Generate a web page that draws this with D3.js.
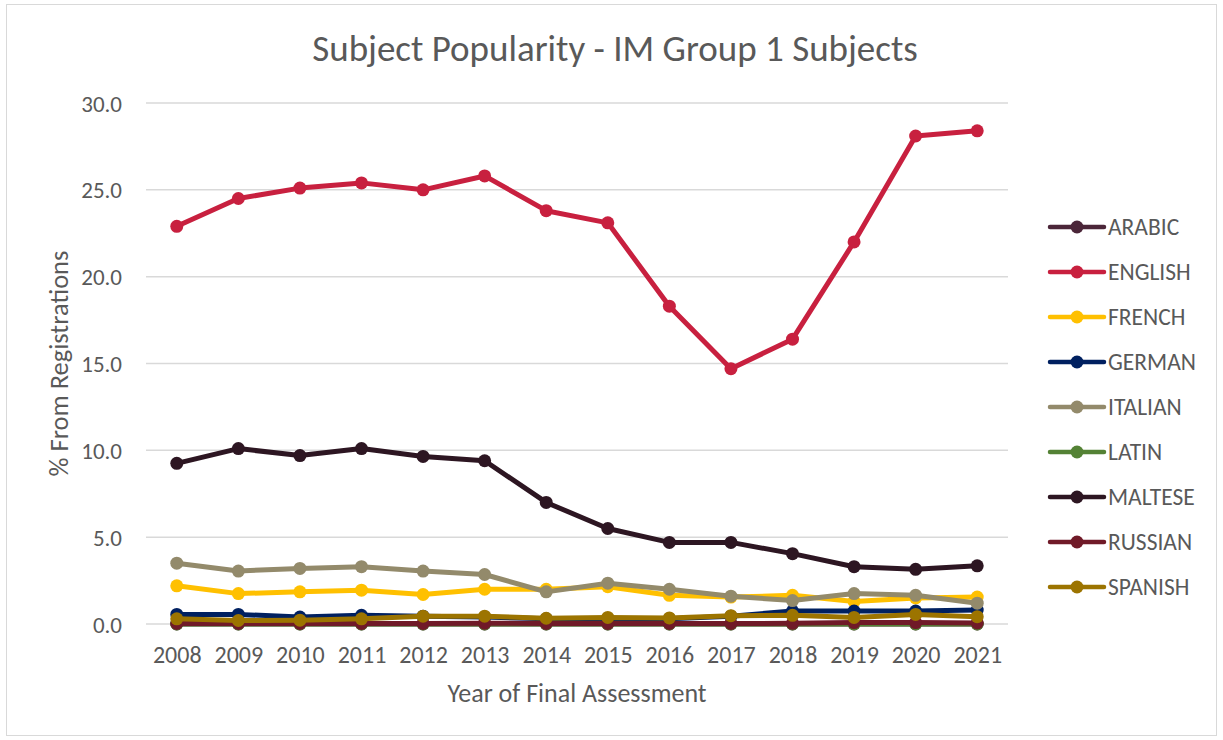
<!DOCTYPE html>
<html><head><meta charset="utf-8">
<script src="https://cdn.jsdelivr.net/npm/d3@7/dist/d3.min.js"></script>
<style>
body{margin:0;background:#fff;}
svg text{font-family:"Carlito","Open Sans",sans-serif;fill:#595959;}
</style></head>
<body><svg id="c" width="1223" height="740"></svg>
<script>
const years = [2008,2009,2010,2011,2012,2013,2014,2015,2016,2017,2018,2019,2020,2021];
const yTicks = [0,5,10,15,20,25,30];
const seriesNames = ["ARABIC","ENGLISH","FRENCH","GERMAN","ITALIAN","LATIN","MALTESE","RUSSIAN","SPANISH"];
const seriesColors = ["#4B2639","#C8203F","#FFC000","#002060","#938A6B","#548235","#2D1622","#701A28","#9C7400"];
const arabic  = [0,0,0,0,0,0,0,0,0,0,0,0,0,0];
const english = [22.9,24.5,25.1,25.4,25.0,25.8,23.8,23.1,18.3,14.7,16.4,22.0,28.1,28.4];
const french  = [2.2,1.75,1.85,1.95,1.7,2.0,2.0,2.15,1.65,1.55,1.65,1.3,1.5,1.55];
const german  = [0.55,0.55,0.4,0.5,0.45,0.4,0.3,0.3,0.3,0.45,0.75,0.75,0.75,0.8];
const italian = [3.5,3.05,3.2,3.3,3.05,2.85,1.85,2.35,2.0,1.6,1.35,1.75,1.65,1.2];
const latin   = [0,0,0,0,0,0,0,0,0,0,0,0,0,0];
const maltese = [9.25,10.1,9.7,10.1,9.65,9.4,7.0,5.5,4.7,4.7,4.05,3.3,3.15,3.35];
const russian = [0.03,0.03,0.03,0.03,0.03,0.05,0.03,0.03,0.03,0.03,0.04,0.08,0.08,0.06];
const spanish = [0.3,0.2,0.22,0.3,0.45,0.45,0.33,0.38,0.35,0.48,0.5,0.38,0.55,0.42];
const seriesValues = [arabic,english,french,german,italian,latin,maltese,russian,spanish];

const svg = d3.select("#c");
svg.append("rect").attr("x",6.5).attr("y",4.5).attr("width",1210).attr("height",731)
  .attr("fill","#fff").attr("stroke","#d9d9d9").attr("stroke-width",1);

const L=146, R=1008, T=103, B=624;
const x = d3.scalePoint().domain(years).range([L,R]).padding(0.5);
const y = d3.scaleLinear().domain([0,30]).range([B,T]);

// grid
svg.append("g").selectAll("line").data(yTicks).join("line")
  .attr("x1",L).attr("x2",R).attr("y1",d=>y(d)).attr("y2",d=>y(d))
  .attr("stroke","#d9d9d9").attr("stroke-width",1.5);

// y axis
const yAxis = svg.append("g").attr("transform",`translate(${L-24},0)`)
  .call(d3.axisLeft(y).tickValues(yTicks).tickFormat(d3.format(".1f")).tickSize(0).tickPadding(0));
yAxis.select(".domain").remove();
yAxis.selectAll("text").attr("font-size",23).attr("dy","0.35em").style("font-family",null);

// x axis
const xAxis = svg.append("g").attr("transform",`translate(0,${B+22})`)
  .call(d3.axisBottom(x).tickFormat(d3.format("d")).tickSize(0).tickPadding(0));
xAxis.select(".domain").remove();
xAxis.selectAll("text").attr("font-size",24).attr("dy","0.71em").style("font-family",null);

// titles
svg.append("text").attr("x",615).attr("y",61).attr("text-anchor","middle")
  .attr("font-size",37).text("Subject Popularity - IM Group 1 Subjects");
svg.append("text").attr("x",577).attr("y",702).attr("text-anchor","middle")
  .attr("font-size",26).text("Year of Final Assessment");
svg.append("text").attr("transform",`translate(68,${(T+B)/2}) rotate(-90)`).attr("text-anchor","middle")
  .attr("font-size",26.5).text("% From Registrations");

// lines
const line = d3.line().x((d,i)=>x(years[i])).y(d=>y(d));
const gS = svg.append("g");
seriesNames.forEach((name,k)=>{
  const g = gS.append("g");
  g.append("path").datum(seriesValues[k]).attr("d",line).attr("fill","none")
    .attr("stroke",seriesColors[k]).attr("stroke-width",5).attr("stroke-linejoin","round").attr("stroke-linecap","round");
  g.selectAll("circle").data(seriesValues[k]).join("circle")
    .attr("cx",(d,i)=>x(years[i])).attr("cy",d=>y(d)).attr("r",6.5).attr("fill",seriesColors[k]);
});

// legend
const lg = svg.append("g");
seriesNames.forEach((name,k)=>{
  const yy = 227 + k*45;
  lg.append("line").attr("x1",1050).attr("x2",1104).attr("y1",yy).attr("y2",yy)
    .attr("stroke",seriesColors[k]).attr("stroke-width",4.5).attr("stroke-linecap","round");
  lg.append("circle").attr("cx",1077).attr("cy",yy).attr("r",6.5).attr("fill",seriesColors[k]);
  lg.append("text").attr("x",1108).attr("y",yy).attr("dy","0.35em").attr("font-size",23.5).text(name);
});
</script></body></html>
